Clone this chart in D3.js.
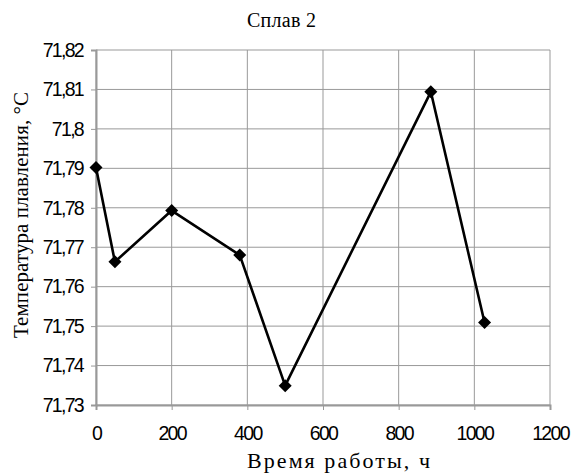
<!DOCTYPE html>
<html>
<head>
<meta charset="utf-8">
<script src="https://cdn.jsdelivr.net/npm/d3@7"></script>
<style>
  body { margin: 0; background: #fff; }
  .tick text { font-family: "Liberation Sans", Arial, sans-serif; font-size: 19.5px; fill: #000; letter-spacing: -1.7px; }
  .lbl { font-family: "Liberation Serif", "Times New Roman", serif; font-size: 20px; fill: #000; }
</style>
</head>
<body>
<div id="chart"></div>
<script>
// data
var hours = [0, 50, 200, 380, 500, 885, 1027]
var temps = [71.7902, 71.7663, 71.7793, 71.768, 71.7349, 71.8094, 71.7509]
var xTicks = [0, 200, 400, 600, 800, 1000, 1200]
var yTicks = [71.73, 71.74, 71.75, 71.76, 71.77, 71.78, 71.79, 71.8, 71.81, 71.82]

var width = 574
var height = 473
var margin = {left: 96, right: 24, top: 50, bottom: 68}

var svg = d3.select("#chart")
  .append("svg")
    .attr("width", width)
    .attr("height", height)

var x = d3.scaleLinear()
  .domain([0, 1200])
  .range([margin.left, width - margin.right])

var y = d3.scaleLinear()
  .domain([71.73, 71.82])
  .range([height - margin.bottom, margin.top])

var fmt = function(d) { return d3.format(".2~f")(d).replace(".", ",") }

// grid
svg.append("g")
  .selectAll("line")
  .data(yTicks)
  .enter()
  .append("line")
    .attr("x1", x(0)).attr("x2", x(1200))
    .attr("y1", d => y(d)).attr("y2", d => y(d))
    .attr("stroke", "#999").attr("stroke-width", 1)

svg.append("g")
  .selectAll("line")
  .data(xTicks)
  .enter()
  .append("line")
    .attr("x1", d => x(d)).attr("x2", d => x(d))
    .attr("y1", y(71.73)).attr("y2", y(71.82))
    .attr("stroke", "#999").attr("stroke-width", 1)

// axes
var yAxis = svg.append("g")
  .attr("transform", "translate(" + x(0) + ",0)")
  .call(d3.axisLeft(y).tickValues(yTicks).tickFormat(fmt).tickSize(5).tickPadding(8))
yAxis.selectAll("line, path").attr("stroke", "#999")
yAxis.select(".domain").attr("stroke-width", 2)

var xAxis = svg.append("g")
  .attr("transform", "translate(0," + y(71.73) + ")")
  .call(d3.axisBottom(x).tickValues(xTicks).tickFormat(d3.format("d")).tickSize(5).tickPadding(16))
xAxis.selectAll("line, path").attr("stroke", "#999")
xAxis.select(".domain").attr("stroke-width", 2)

// line
var pts = hours.map((h, i) => [h, temps[i]])
svg.append("path")
  .datum(pts)
  .attr("fill", "none")
  .attr("stroke", "#000")
  .attr("stroke-width", 2.6)
  .attr("stroke-linejoin", "round")
  .attr("d", d3.line().x(d => x(d[0])).y(d => y(d[1])))

// diamond markers
svg.append("g")
  .selectAll("path")
  .data(pts)
  .enter()
  .append("path")
    .attr("transform", d => "translate(" + x(d[0]) + "," + y(d[1]) + ")")
    .attr("d", "M0,-6.5L6.5,0L0,6.5L-6.5,0Z")
    .attr("fill", "#000")

// labels
svg.append("text").attr("class", "lbl")
  .attr("x", 281.5).attr("y", 27)
  .attr("text-anchor", "middle")
  .attr("textLength", 69).attr("lengthAdjust", "spacing")
  .text("Сплав 2")

svg.append("text").attr("class", "lbl")
  .attr("x", 338.5).attr("y", 468)
  .attr("text-anchor", "middle")
  .style("font-size", "22px")
  .attr("textLength", 183).attr("lengthAdjust", "spacing")
  .text("Время работы, ч")

svg.append("text").attr("class", "lbl")
  .attr("transform", "translate(28,215) rotate(-90)")
  .attr("text-anchor", "middle")
  .style("font-size", "21px")
  .attr("textLength", 246).attr("lengthAdjust", "spacing")
  .text("Температура плавления, °С")
</script>
</body>
</html>
